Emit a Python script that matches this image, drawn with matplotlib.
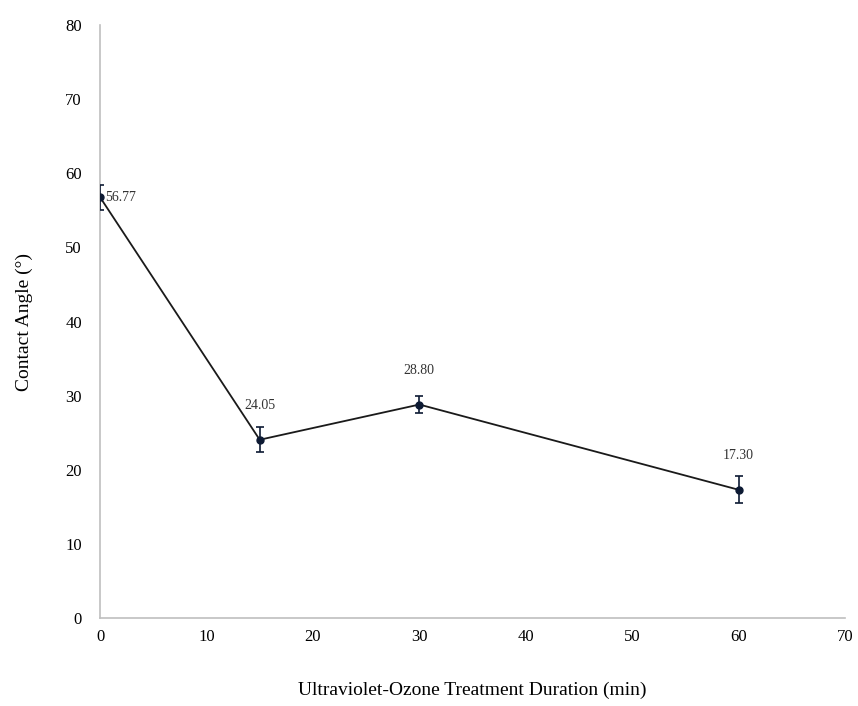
import matplotlib
matplotlib.use('Agg')
import matplotlib.pyplot as plt

plt.rcParams['font.family'] = ['Liberation Serif', 'DejaVu Serif']

duration = [0, 15, 30, 60]
angle = [56.77, 24.05, 28.80, 17.30]
err = [1.7, 1.7, 1.1, 1.8]
labels = ['56.77', '24.05', '28.80', '17.30']

fig = plt.figure(figsize=(8.58, 7.06), dpi=100)
ax = fig.add_axes([0.1166, 0.1246, 0.8684, 0.84])

ax.plot(duration, angle, color='#1a1a1a', lw=1.3, zorder=2)
ax.errorbar(duration, angle, yerr=err, fmt='o', color='#0d1a33', ms=5,
            ecolor='#0d1a33', elinewidth=1.2, capsize=3, capthick=1.2, zorder=3)

for i, (x, y, t) in enumerate(zip(duration, angle, labels)):
    if i == 0:
        ax.annotate(t, (x, y), xytext=(4, 0), textcoords='offset points',
                    fontsize=10, color='#333333', va='center', ha='left')
    else:
        ax.annotate(t, (x, y), xytext=(0, 20), textcoords='offset points',
                    fontsize=10, color='#333333', va='bottom', ha='center')

ax.set_xlim(0, 70)
ax.set_ylim(0, 80)
ax.set_xticks(range(0, 71, 10))
ax.set_yticks(range(0, 81, 10))
ax.tick_params(axis='x', length=0, labelsize=12, pad=8)
ax.tick_params(axis='y', length=0, labelsize=12, pad=13)
for s in ['top', 'right']:
    ax.spines[s].set_visible(False)
for s in ['left', 'bottom']:
    ax.spines[s].set_color('#bfbfbf')
    ax.spines[s].set_linewidth(1.2)

ax.set_xlabel('Ultraviolet-Ozone Treatment Duration (min)', fontsize=14, labelpad=26)
ax.set_ylabel('Contact Angle (°)', fontsize=14, labelpad=23)

fig.savefig('out.png', dpi=100)
